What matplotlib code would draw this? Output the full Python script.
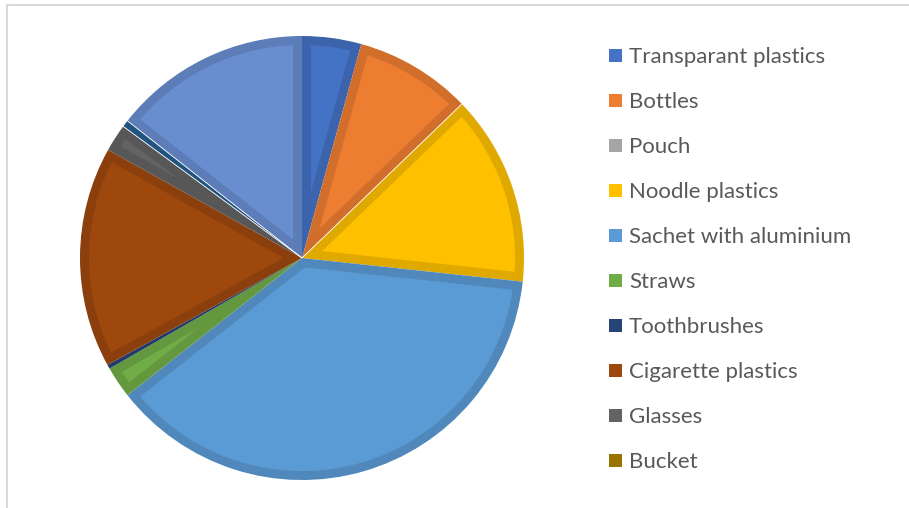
import matplotlib
matplotlib.use("Agg")
import matplotlib.pyplot as plt
from matplotlib.patches import Rectangle, Polygon
import matplotlib.colors as mcolors
import numpy as np

# Share of collected plastic waste by type (percent)
categories = ["Transparant plastics", "Bottles", "Pouch", "Noodle plastics",
              "Sachet with aluminium", "Straws", "Toothbrushes",
              "Cigarette plastics", "Glasses", "Bucket"]
# the series continues past the legend entries (three unlabelled items)
values = [4.3, 8.5, 0.0, 13.9, 37.7, 2.3, 0.3, 16.1, 2.0, 0.0, 0.5, 0.0, 14.4]
colors = ["#4472C4", "#ED7D31", "#A5A5A5", "#FFC000", "#5B9BD5", "#70AD47",
          "#264478", "#9E480E", "#636363", "#997300", "#255E91", "#43682B",
          "#698ED0"]
explode = [0, 0, 0, 0, 0.015, 0, 0, 0, 0, 0, 0, 0, 0]

W, H = 909, 508
fig = plt.figure(figsize=(W / 100, H / 100), dpi=100)
ax = fig.add_axes([0, 0, 1, 1])

cx, cy, R = 302, H - 258, 222
wedges, _ = ax.pie(values, colors=colors, explode=explode, startangle=90,
                   counterclock=False, center=(cx, cy), radius=R,
                   wedgeprops=dict(linewidth=0))
ax.set_xlim(0, W)
ax.set_ylim(0, H)
ax.set_aspect("equal")
ax.axis("off")

def darker(c, f=0.88):
    r, g, b = mcolors.to_rgb(c)
    return (r * f, g * f, b * f)

def inner_face(w, d):
    """Wedge outline shrunk inward by d (bevel face), or None if too thin."""
    t1, t2 = np.deg2rad(w.theta1), np.deg2rad(w.theta2)
    span = t2 - t1
    r = w.r
    if r - d <= 0:
        return None
    da = np.arcsin(d / (r - d))
    if span <= 2 * da + 1e-6:
        return None
    x0, y0 = w.center
    mid = 0.5 * (t1 + t2)
    rv = d / np.sin(span / 2)
    if rv >= r - d:
        return None
    tip = (x0 + rv * np.cos(mid), y0 + rv * np.sin(mid))
    arc = np.linspace(t1 + da, t2 - da, 120)
    pts = [tip] + [(x0 + (r - d) * np.cos(a), y0 + (r - d) * np.sin(a)) for a in arc]
    return pts

inset_px = 9
for w, c, v in zip(wedges, colors, values):
    if v > 0:
        # darker rim band with a lighter inset face on top
        w.set_facecolor(darker(c))
        pts = inner_face(w, inset_px)
        if pts is not None:
            ax.add_patch(Polygon(pts, closed=True, facecolor=c,
                                 edgecolor="none", zorder=w.get_zorder() + 0.1))
    else:
        # empty slices only show as a thin white separator
        ang = np.deg2rad(w.theta1)
        x0, y0 = w.center
        ax.plot([x0, x0 + R * np.cos(ang)], [y0, y0 + R * np.sin(ang)],
                color="white", lw=0.6, solid_capstyle="butt", zorder=3)

# legend
lx, ly0, dy = 609, 55.5, 45
for i, (name, col) in enumerate(zip(categories, colors)):
    y = H - (ly0 + i * dy)
    ax.add_patch(Rectangle((lx, y - 6.5), 13, 13, facecolor=col,
                           edgecolor="none"))
    ax.text(lx + 20, y - 7.5, name, fontsize=16, family="Lato",
            color="#595959", va="baseline", ha="left")

# chart frame
fig.patches.append(Rectangle((7 / W, -0.1), 1.2, (H - 5.5) / H + 0.1,
                             transform=fig.transFigure, fill=False,
                             edgecolor="#D9D9D9", linewidth=1.5))

fig.savefig("out.png", dpi=100)
